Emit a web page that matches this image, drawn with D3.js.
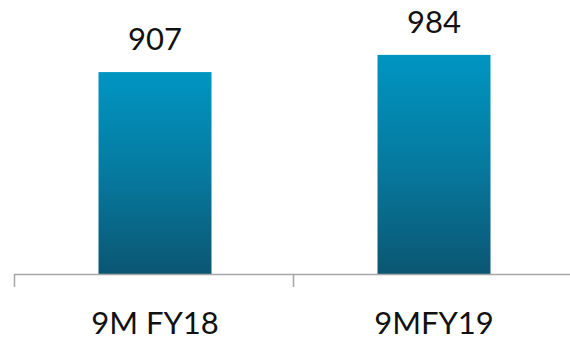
<!DOCTYPE html>
<html>
<head>
<meta charset="utf-8">
<script src="https://cdn.jsdelivr.net/npm/d3@7"></script>
<style>
  html, body { margin: 0; padding: 0; background: #fff; }
  svg { display: block; }
  text { font-family: Lato, "Open Sans", sans-serif; fill: #111; }
</style>
</head>
<body>
<svg id="chart" width="570" height="342"></svg>
<script>
// Nine-month totals by fiscal year
const categories = ["9M FY18", "9MFY19"];
const values = [907, 984];

const svg = d3.select("#chart");
const W = 570, H = 342;
const baseY = 274.5;

const x = d3.scaleBand().domain(categories).range([14, 572]).padding(0);
const y = d3.scaleLinear().domain([0, 1230]).range([baseY, 0]);
const barW = x.bandwidth() * 0.405;
const center = c => x(c) + x.bandwidth() / 2 + 1.5;

const defs = svg.append("defs");
const grad = defs.append("linearGradient")
  .attr("id", "barGrad")
  .attr("x1", 0).attr("y1", 0).attr("x2", 0).attr("y2", 1);
grad.append("stop").attr("offset", "0%").attr("stop-color", "#0095c2");
grad.append("stop").attr("offset", "50%").attr("stop-color", "#067a9f");
grad.append("stop").attr("offset", "100%").attr("stop-color", "#0b5672");

// bars
svg.selectAll("rect.bar")
  .data(values)
  .join("rect")
  .attr("class", "bar")
  .attr("x", (d, i) => center(categories[i]) - barW / 2)
  .attr("y", d => y(d))
  .attr("width", barW)
  .attr("height", d => baseY - y(d))
  .attr("fill", "url(#barGrad)");

// value labels
svg.selectAll("text.val")
  .data(values)
  .join("text")
  .attr("class", "val")
  .attr("x", (d, i) => center(categories[i]))
  .attr("y", d => y(d) - 22)
  .attr("text-anchor", "middle")
  .attr("font-size", 31)
  .text(d => d);

// category axis
const axis = svg.append("g");
axis.append("line")
  .attr("x1", 14).attr("x2", W)
  .attr("y1", baseY).attr("y2", baseY)
  .attr("stroke", "#a6a6a6").attr("stroke-width", 1.5);

const tickXs = [x(categories[0]), x(categories[1])];
axis.selectAll("line.tick")
  .data(tickXs)
  .join("line")
  .attr("class", "tick")
  .attr("x1", d => d + 0.5).attr("x2", d => d + 0.5)
  .attr("y1", baseY).attr("y2", 287)
  .attr("stroke", "#a6a6a6").attr("stroke-width", 1.5);

axis.selectAll("text.cat")
  .data(categories)
  .join("text")
  .attr("class", "cat")
  .attr("x", d => center(d))
  .attr("y", 334)
  .attr("text-anchor", "middle")
  .attr("font-size", 31)
  .text(d => d);
</script>
</body>
</html>
